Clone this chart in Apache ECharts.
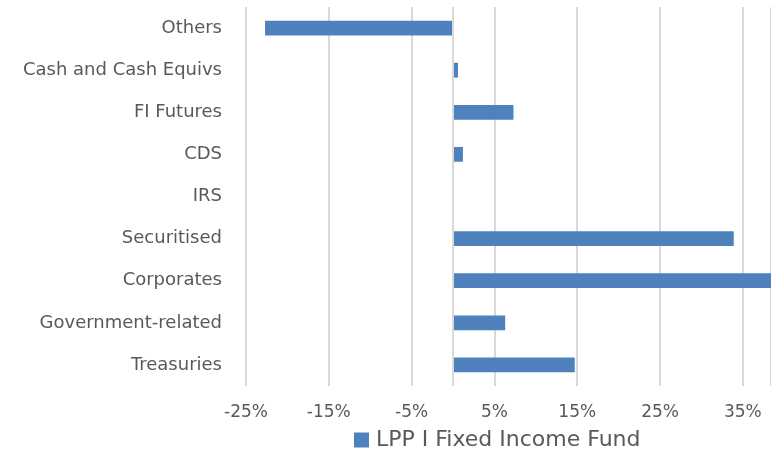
<!DOCTYPE html>
<html>
<head>
<meta charset="utf-8">
<script src="https://cdn.jsdelivr.net/npm/echarts@6/dist/echarts.min.js"></script>
<style>
html,body{margin:0;padding:0;background:#fff;}
#chart{width:771px;height:456px;}
</style>
</head>
<body>
<div id="chart"></div>
<script>
var categories = ['Treasuries','Government-related','Corporates','Securitised','IRS','CDS','FI Futures','Cash and Cash Equivs','Others'];
var fundValues = [14.7, 6.3, 39.5, 33.9, 0, 1.2, 7.3, 0.6, -22.7];
var seriesName = 'LPP I Fixed Income Fund';
var axisMin = -25, axisMax = 38.4, axisStep = 10;

var labelColor = '#595959';
var gridColor = '#d9d9d9';
var font = 'DejaVu Sans';

var chart = echarts.init(document.getElementById('chart'));

var option = {
    animation: false,
    backgroundColor: '#fff',
    grid: {
        left: 246,
        right: -3,
        top: 7,
        bottom: 70
    },
    legend: {
        show: true,
        data: [seriesName],
        top: 429,
        left: 354,
        padding: 0,
        itemWidth: 15,
        itemHeight: 15,
        icon: 'rect',
        itemGap: 8,
        textStyle: {
            color: labelColor,
            fontSize: 22,
            fontFamily: font,
            padding: [0, 0, 0, 2]
        }
    },
    xAxis: {
        type: 'value',
        min: axisMin,
        max: axisMax,
        interval: axisStep,
        axisLine: {show: false},
        axisTick: {show: false},
        axisLabel: {
            color: labelColor,
            fontSize: 17,
            fontFamily: font,
            margin: 18,
            showMaxLabel: false,
            formatter: function (v) { return v + '%'; }
        },
        splitLine: {
            show: true,
            lineStyle: {color: gridColor, width: 2}
        }
    },
    yAxis: {
        type: 'category',
        data: categories,
        axisLine: {show: false},
        axisTick: {show: false},
        axisLabel: {
            color: labelColor,
            fontSize: 18,
            fontFamily: font,
            margin: 24
        }
    },
    series: [{
        name: seriesName,
        type: 'bar',
        data: fundValues,
        barCategoryGap: '65%',
        clip: true,
        itemStyle: {
            color: '#4f81bd'
        },
        markLine: {
            silent: true,
            symbol: ['none', 'none'],
            label: {show: false},
            lineStyle: {color: gridColor, width: 2, type: 'solid'},
            data: [{xAxis: 0}]
        },
        z: 3
    }]
};

chart.setOption(option);
</script>
</body>
</html>
